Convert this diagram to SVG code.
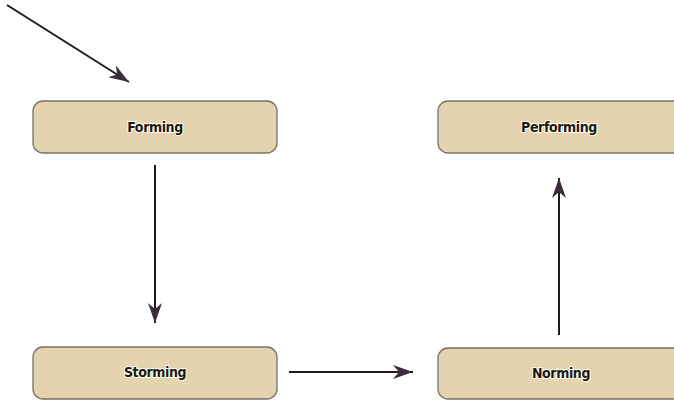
<svg xmlns="http://www.w3.org/2000/svg" width="674" height="401" viewBox="0 0 674 401">
<style>
.box{fill:#e3d3ae;stroke:#77706a;stroke-width:1.3}
.lbl{font-family:"DejaVu Sans Condensed","DejaVu Sans",sans-serif;font-weight:bold;font-size:14px;fill:#1a1a1a;text-anchor:middle;stroke:#fffbe8;stroke-width:2;paint-order:stroke;letter-spacing:-0.4px}
.conn{stroke:#1e1a1e;stroke-width:2;fill:none;marker-end:url(#ah)}
</style>
<defs>
<marker id="ah" viewBox="0 0 20 14" refX="20" refY="7" markerWidth="20" markerHeight="14" markerUnits="userSpaceOnUse" orient="auto">
<path d="M0,0 L20,7 L0,14 L6,7 Z" fill="#3b2c3b"/>
</marker>
</defs>
<rect width="674" height="401" fill="#fff"/>
<g id="connectors">
<line class="conn" x1="7" y1="5" x2="129" y2="82"/>
<line class="conn" x1="155" y1="165" x2="155" y2="323"/>
<line class="conn" x1="289" y1="372" x2="413" y2="372"/>
<line class="conn" x1="559" y1="335" x2="559" y2="178"/>
</g>
<g id="forming">
<rect class="box" x="33" y="101" width="244" height="52" rx="10"/>
<text class="lbl" x="155" y="132">Forming</text>
</g>
<g id="performing">
<rect class="box" x="438" y="101" width="250" height="52" rx="10"/>
<text class="lbl" x="559" y="132">Performing</text>
</g>
<g id="storming">
<rect class="box" x="33" y="347" width="244" height="52" rx="10"/>
<text class="lbl" x="155" y="377">Storming</text>
</g>
<g id="norming">
<rect class="box" x="438" y="348" width="250" height="51" rx="10"/>
<text class="lbl" x="561" y="378">Norming</text>
</g>
</svg>
